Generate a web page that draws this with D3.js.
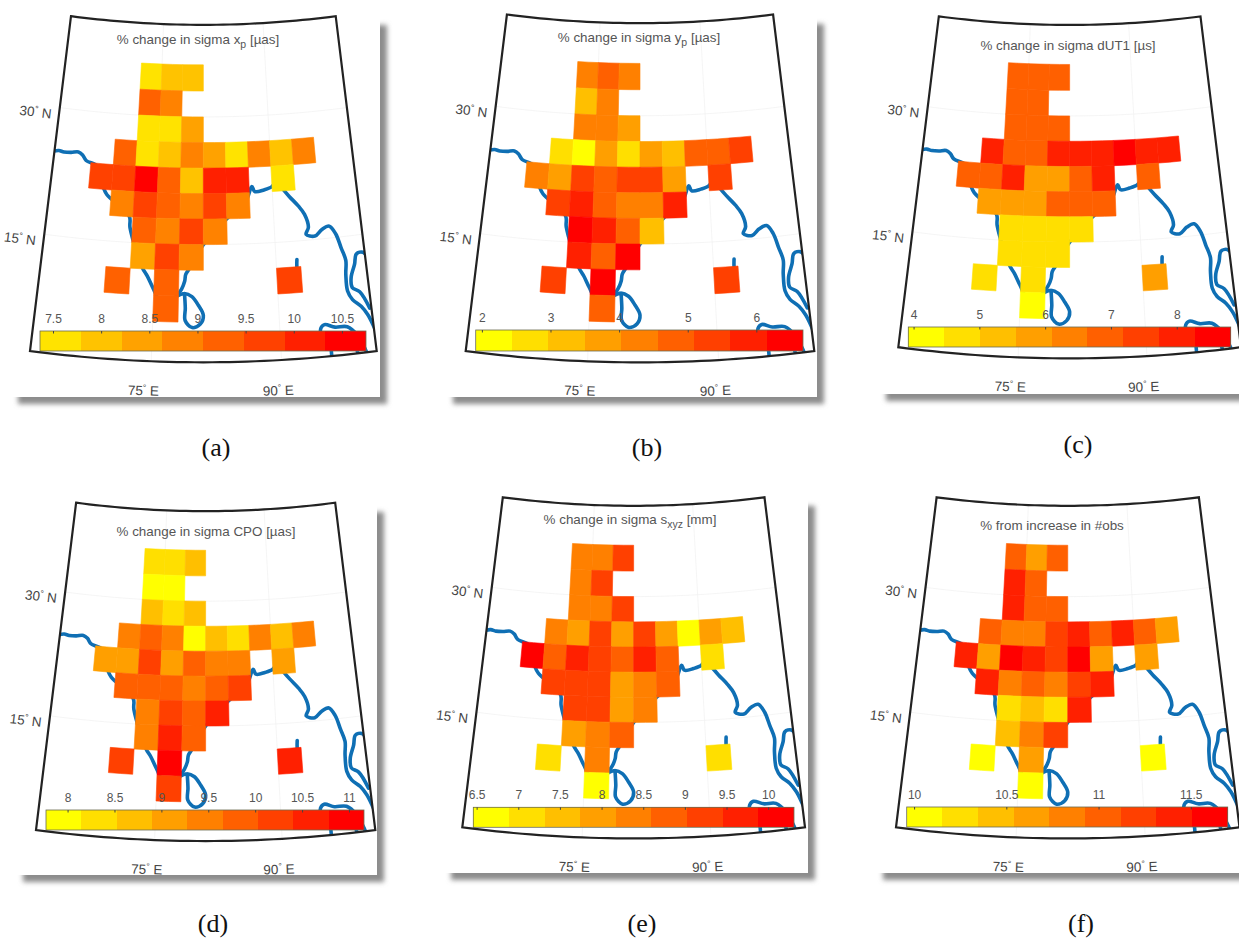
<!DOCTYPE html>
<html>
<head>
<meta charset="utf-8">
<style>
	html, body { margin: 0; padding: 0; background: #fff; overflow: hidden; }
	svg { display: block; }
</style>
<script src="https://cdn.jsdelivr.net/npm/d3@7/dist/d3.min.js"></script>
</head>
<body>
<script>
'use strict';

// grid cells, west edge and south edge in degrees (3 x 3 deg)
var cellLon = [72,75,78, 72,75, 72,75,78, 69,72,75,78,81,84,87,90,93, 66,69,72,75,78,81,84,90, 69,72,75,78,81,84, 72,75,78,81, 72,75,78, 69,75,90, 75];
var cellLat = [33,33,33, 30,30, 27,27,27, 24,24,24,24,24,24,24,24,24, 21,21,21,21,21,21,21,21, 18,18,18,18,18,18, 15,15,15,15, 12,12,12, 9,9,9, 6];

// values per cell, same order as above
var valuesA = [7.6,8,8, 9.3,8.9, 7.6,7.6,8.4, 9.3,7.6,8,8.9,8.4,7.6,8.9,8,8.9, 9.7,9.7,10.5,9.3,8,10.1,10.1,7.6, 8.9,9.7,9.3,8.9,9.7,8.9, 9.3,8.9,9.7,8.9, 8.4,9.7,8.9, 9.3,9.3,9.7, 9.3];
var valuesB = [4.3,4.8,4.3, 3.2,4.3, 4.3,4.3,3.8, 2.7,2.2,3.8,2.7,3.8,3.2,4.8,4.8,5.4, 4.3,3.8,5.4,4.8,5.4,5.4,3.8,5.4, 5.4,5.9,4.8,4.3,4.3,5.9, 6.4,5.9,4.8,3.2, 5.9,4.8,6.4, 5.4,6.4,5.4, 4.8];
var valuesC = [6.9,6.9,6.9, 6.9,6.9, 6.9,6.9,6.9, 8,6.9,6.9,8,8,8,8.5,8,8, 6.9,6.9,8,5.8,5.8,6.9,8,6.9, 5.8,5.8,5.8,6.9,6.9,6.9, 4.7,4.7,4.7,4.7, 4.7,4.7,4.7, 4.7,4.7,5.8, 4.2];
var valuesD = [8.3,8.3,8.7, 8,8, 8.7,8.3,8.7, 9.5,9.8,9.5,8,8.7,8.3,9.5,8.7,9.5, 9.1,9.1,10.2,9.1,9.8,9.5,9.5,9.1, 9.8,9.8,9.8,9.5,9.8,10.2, 9.5,10.2,9.8,10.6, 9.5,10.6,9.8, 10.2,11,10.6, 10.2];
var valuesE = [8.4,8.4,9.2, 8.4,9.2, 8.4,8.4,9.2, 8.4,8,9.2,8,9.2,8,6.7,8,7.5, 10.1,8.8,9.7,9.2,8.8,9.7,8.8,7.1, 9.2,9.2,9.2,8,8.4,8.8, 9.2,9.2,8,8.4, 8,8.4,8.8, 7.1,8.4,7.1, 6.7];
var valuesF = [11.02,10.64,11.02, 11.41,11.02, 11.41,11.02,11.02, 11.02,10.83,10.83,11.22,11.41,11.02,11.41,11.02,10.64, 11.41,10.64,11.6,11.41,11.22,11.6,10.64,10.64, 11.41,10.83,11.02,10.83,11.22,11.41, 10.25,10.44,10.25,11.41, 10.44,10.83,11.22, 10.06,10.64,10.06, 10.06];

// colorbar ticks
var ticksA = [7.5,8,8.5,9,9.5,10,10.5];
var ticksB = [2,3,4,5,6];
var ticksC = [4,5,6,7,8];
var ticksD = [8,8.5,9,9.5,10,10.5,11];
var ticksE = [6.5,7,7.5,8,8.5,9,9.5,10];
var ticksF = [10,10.5,11,11.5];

// coast lines, lon/lat
var coastWest = [[60.9,24.85],[61.56,25],[62.28,24.9],[63.24,24.95],[64.2,25.1],[64.8,24.8],[65.34,24.2],[67,23.6],[67.92,21.2],[68.46,20.4],[71.52,18.05],[71.7,16.7],[73.44,12.2],[74.16,11.15],[74.88,9.85],[76.2,7.8],[77.5,8.65],[78.36,9.8],[78.72,10.7],[78.84,11.5],[79.32,12.25],[81,15],[84,18],[86.5,20],[87.36,21.7],[87.72,21.1],[88.92,21.25],[90,21.6],[90.48,22.2]];
var coastEast = [[91.32,21.3],[92.16,20.3],[93.24,19.1],[93.96,18.05],[94.32,16.5],[93.96,15.7],[95.04,15.4],[96,16.1],[96.96,16.4],[97.68,15.4],[98.16,13.75],[98.58,12.2],[98.4,10.6],[98.4,8.65],[98.88,7.6],[99.84,6.7],[100.5,5.65],[101.1,4],[101.64,2],[102,0.5]];
var coastMalay = [[100.8,6.4],[99.84,8.4],[99,9],[99,10.15],[99.6,11.65],[99.96,12.8],[100.8,12.9],[101.4,12.05]];
var coastLanka = [[77.7,8.9],[78.72,9.3],[79.62,8.95],[80.4,7.95],[81,6.8],[80.64,5.8],[79.68,5.4],[78.84,6.2],[78.84,7.6],[78.72,9.3]];
var coastAndaman = [[92.58,12.85],[92.52,12.2],[92.5,11]];
var coastSumatra = [[94.8,3],[94.8,4.7],[95.28,5.1],[96.48,4.7],[97.92,4.6],[99,3.5],[100,1]];
var coastSumatra2 = [[95.8,3],[95.8,1]];
var coastSumatra3 = [[98.6,3],[98.9,1]];
var coasts = [coastWest, coastEast, coastMalay, coastLanka, coastAndaman, coastSumatra, coastSumatra2, coastSumatra3];

var latTicks = [30, 15];
var lonTicks = [75, 90];

// map limits in degrees
var lonW = 61, lonE = 101, latS = 1.5, latN = 40.5;

var yellowRed9 = d3.quantize(d3.interpolateRgb('#ffff00', '#ff0000'), 9);
var yellowRed8 = d3.quantize(d3.interpolateRgb('#ffe300', '#ff0000'), 8);

var panels = [
	{ name: '(a)', values: valuesA, ticks: ticksA, colors: yellowRed8, domain: [7.365, 10.75],
	  title: ['% change in sigma x', 'p', ' [\u00b5as]'], titleX: 198, titleY: 44,
	  capX: 216, capY: 456,
	  left: 30, right: 376.7, top: 16.2, bottom: 351,
	  barX: [40, 366], barY: [331, 351],
	  box: [10, 16, 380, 397] },
	{ name: '(b)', values: valuesB, ticks: ticksB, colors: yellowRed9, domain: [1.91, 6.68],
	  title: ['% change in sigma y', 'p', ' [\u00b5as]'], titleX: 639, titleY: 42,
	  capX: 647, capY: 456,
	  left: 465.7, right: 814.3, top: 14.5, bottom: 351,
	  barX: [475.7, 803], barY: [330, 351],
	  box: [445, 15, 817, 397] },
	{ name: '(c)', values: valuesC, ticks: ticksC, colors: yellowRed9, domain: [3.92, 8.82],
	  title: ['% change in sigma dUT1 [\u00b5s]'], titleX: 1068, titleY: 50,
	  capX: 1078, capY: 453,
	  left: 898.3, right: 1241, top: 16.4, bottom: 347.2,
	  barX: [908.3, 1230.7], barY: [327, 347],
	  box: [878, 15, 1260, 394] },
	{ name: '(d)', values: valuesD, ticks: ticksD, colors: yellowRed9, domain: [7.77, 11.16],
	  title: ['% change in sigma CPO [\u00b5as]'], titleX: 206, titleY: 536,
	  capX: 213, capY: 932,
	  left: 36, right: 375.3, top: 502.7, bottom: 830,
	  barX: [46, 364], barY: [810, 830],
	  box: [15, 503, 377, 875] },
	{ name: '(e)', values: valuesE, ticks: ticksE, colors: yellowRed9, domain: [6.46, 10.31],
	  title: ['% change in sigma s', 'xyz', ' [mm]'], titleX: 630, titleY: 524,
	  capX: 642, capY: 932,
	  left: 462.3, right: 805, top: 497.3, bottom: 827.3,
	  barX: [473.3, 794], barY: [807.3, 827.3],
	  box: [443, 497, 808, 873] },
	{ name: '(f)', values: valuesF, ticks: ticksF, colors: yellowRed9, domain: [9.96, 11.7],
	  title: ['% from increase in #obs'], titleX: 1052, titleY: 530,
	  capX: 1081, capY: 932,
	  left: 896, right: 1239.5, top: 497.3, bottom: 827.3,
	  barX: [906.7, 1227.7], barY: [807, 827],
	  box: [875, 497, 1260, 873] }
];

var svg = d3.select('body').append('svg')
	.attr('width', 1239)
	.attr('height', 938);

var defs = svg.append('defs');
defs.append('filter')
	.attr('id', 'shadowBlur')
	.attr('x', '-5%').attr('y', '-5%').attr('width', '110%').attr('height', '110%')
	.append('feGaussianBlur')
	.attr('stdDeviation', 2.6);

var conic = d3.geoConicConformal()
	.parallels([10, 32])
	.rotate([-81, 0])
	.scale(1)
	.translate([0, 0]);

panels.forEach(drawPanel);

function drawPanel(p, idx) {
	// corners of the frame set the pixel scales
	var sw = conic([lonW, latS]), se = conic([lonE, latS]), nw = conic([lonW, latN]);
	var xScale = d3.scaleLinear().domain([sw[0], se[0]]).range([p.left, p.right]);
	var yScale = d3.scaleLinear().domain([nw[1], sw[1]]).range([p.top, p.bottom]);

	function project(d) {
		var q = conic(d);
		return [xScale(q[0]), yScale(q[1])];
	}

	var line = d3.line();

	function toPath(lonlat) {
		return line(lonlat.map(project));
	}

	var frame = []
		.concat(d3.range(lonW, lonE + 1).map(function(l) { return [l, latN]; }))
		.concat(d3.range(lonE, lonW - 1, -1).map(function(l) { return [l, latS]; }));
	frame.push(frame[0]);

	var g = svg.append('g').attr('class', 'panel');

	// paper card with its drop shadow, kept in from the left and top so only right and bottom show
	g.append('rect')
		.attr('x', p.box[0] + 8)
		.attr('y', p.box[1] + 9)
		.attr('width', p.box[2] - p.box[0] - 1)
		.attr('height', p.box[3] - p.box[1] - 2)
		.attr('fill', '#8c8c8c')
		.attr('filter', 'url(#shadowBlur)');
	g.append('rect')
		.attr('x', p.box[0])
		.attr('y', p.box[1])
		.attr('width', p.box[2] - p.box[0])
		.attr('height', p.box[3] - p.box[1])
		.attr('fill', '#fff');

	defs.append('clipPath')
		.attr('id', 'frameClip' + idx)
		.append('path')
		.attr('d', toPath(frame));

	var inner = g.append('g').attr('clip-path', 'url(#frameClip' + idx + ')');

	// faint graticule
	latTicks.forEach(function(lat) {
		inner.append('path')
			.attr('d', toPath(d3.range(lonW, lonE + 1).map(function(l) { return [l, lat]; })))
			.attr('fill', 'none')
			.attr('stroke', '#f1f1f1')
			.attr('stroke-width', 0.7);
	});
	lonTicks.forEach(function(lon) {
		inner.append('path')
			.attr('d', toPath([[lon, latS], [lon, latN]]))
			.attr('fill', 'none')
			.attr('stroke', '#f1f1f1')
			.attr('stroke-width', 0.7);
	});

	inner.selectAll('path.coast')
		.data(coasts)
		.enter()
		.append('path')
		.attr('class', 'coast')
		.attr('d', function(d) { return d3.line().curve(d3.curveCatmullRom)(d.map(project)); })
		.attr('fill', 'none')
		.attr('stroke', '#0f6fb4')
		.attr('stroke-width', 3.6)
		.attr('stroke-linecap', 'round')
		.attr('stroke-linejoin', 'round');

	var color = d3.scaleQuantize().domain(p.domain).range(p.colors);

	g.selectAll('path.cell')
		.data(p.values)
		.enter()
		.append('path')
		.attr('class', 'cell')
		.attr('d', function(d, i) {
			var w = cellLon[i], s = cellLat[i];
			return toPath([[w, s], [w + 1.5, s], [w + 3, s], [w + 3, s + 3], [w + 1.5, s + 3], [w, s + 3], [w, s]]) + 'Z';
		})
		.attr('fill', function(d) { return color(d); })
		.attr('stroke', function(d) { return color(d); })
		.attr('stroke-width', 0.6);

	// colorbar
	var barScale = d3.scaleLinear().domain(p.domain).range(p.barX);
	var binEdges = [p.domain[0]].concat(color.thresholds()).concat([p.domain[1]]);

	g.selectAll('rect.bin')
		.data(p.colors)
		.enter()
		.append('rect')
		.attr('class', 'bin')
		.attr('x', function(d, i) { return barScale(binEdges[i]); })
		.attr('y', p.barY[0])
		.attr('width', function(d, i) { return barScale(binEdges[i + 1]) - barScale(binEdges[i]); })
		.attr('height', p.barY[1] - p.barY[0])
		.attr('fill', function(d) { return d; })
		.attr('shape-rendering', 'crispEdges');

	g.append('rect')
		.attr('x', p.barX[0])
		.attr('y', p.barY[0])
		.attr('width', p.barX[1] - p.barX[0])
		.attr('height', p.barY[1] - p.barY[0])
		.attr('fill', 'none')
		.attr('stroke', '#6b6b50')
		.attr('stroke-width', 0.8);

	var axis = g.append('g')
		.attr('transform', 'translate(0,' + p.barY[0] + ')')
		.call(d3.axisTop(barScale)
			.tickValues(p.ticks)
			.tickFormat(function(d) { return String(d); })
			.tickSize(-2.5)
			.tickPadding(8));
	axis.select('.domain').remove();
	axis.selectAll('line').attr('stroke', '#444');
	axis.selectAll('text')
		.attr('fill', '#555')
		.style('font-family', '"Liberation Sans", Arial, sans-serif')
		.style('font-size', '12px');

	// frame on top of the map
	g.append('path')
		.attr('d', toPath(frame) + 'Z')
		.attr('fill', 'none')
		.attr('stroke', '#222')
		.attr('stroke-width', 2.2)
		.attr('stroke-linejoin', 'miter');

	// lat and lon labels
	latTicks.forEach(function(lat) {
		var q = project([lonW, lat]);
		degreeLabel(g, String(lat), 'N', q[0] - 9, q[1] + 11, 'end', 7);
	});
	lonTicks.forEach(function(lon) {
		var q = project([lon, latS]);
		var west = lon < 81;
		degreeLabel(g, String(lon), 'E', q[0] + (west ? -8 : -3), yScale(conic([81, latS])[1]) + 33, 'middle', west ? 2 : -2);
	});

	// title, second piece is a subscript
	var title = g.append('text')
		.attr('x', p.titleX)
		.attr('y', p.titleY)
		.attr('text-anchor', 'middle')
		.attr('fill', '#555')
		.style('font-family', '"Liberation Sans", Arial, sans-serif')
		.style('font-size', '13.4px');
	title.append('tspan').text(p.title[0]);
	if (p.title.length > 1) {
		title.append('tspan').attr('dy', 4).style('font-size', '10.5px').text(p.title[1]);
		title.append('tspan').attr('dy', -4).text(p.title[2]);
	}

	// caption
	g.append('text')
		.attr('x', p.capX)
		.attr('y', p.capY)
		.attr('text-anchor', 'middle')
		.attr('fill', '#111')
		.style('font-family', '"Liberation Serif", "Times New Roman", serif')
		.style('font-size', '26px')
		.text(p.name);
}

function degreeLabel(g, num, hemi, x, y, anchor, tilt) {
	var t = g.append('text')
		.attr('transform', 'translate(' + x + ',' + y + ') rotate(' + tilt + ')')
		.attr('text-anchor', anchor)
		.attr('fill', '#444')
		.style('font-family', '"Liberation Sans", Arial, sans-serif')
		.style('font-size', '13.5px');
	t.append('tspan').text(num);
	t.append('tspan').attr('dy', -5).style('font-size', '8.5px').text('\u00b0');
	t.append('tspan').attr('dy', 5).text('\u00a0' + hemi);
}
</script>
</body>
</html>
